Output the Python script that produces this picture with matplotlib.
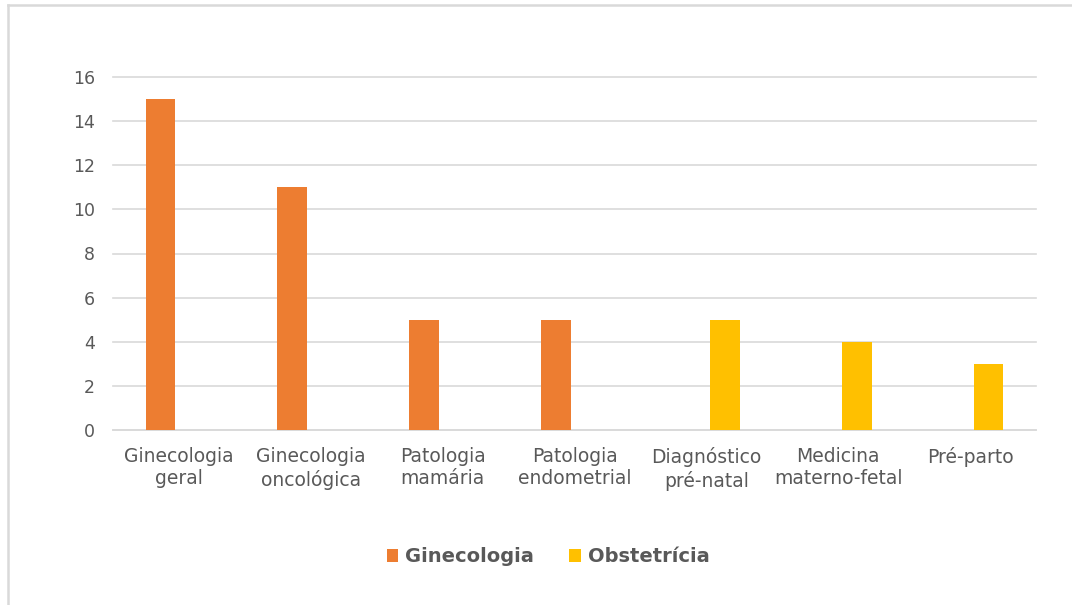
import matplotlib
matplotlib.use("Agg")
import matplotlib.pyplot as plt
import numpy as np
from matplotlib.lines import Line2D

categories = ["Ginecologia\ngeral", "Ginecologia\noncológica", "Patologia\nmamária",
              "Patologia\nendometrial", "Diagnóstico\npré-natal", "Medicina\nmaterno-fetal",
              "Pré-parto"]
ginecologia = [15, 11, 5, 5, 0, 0, 0]
obstetricia = [0, 0, 0, 0, 5, 4, 3]
yticks = [0, 2, 4, 6, 8, 10, 12, 14, 16]

plt.rcParams['font.family'] = ['DejaVu Sans']

fig = plt.figure(figsize=(10.72, 6.05), dpi=100)
# outer chart border (only top and left visible in the reference)
fig.lines.append(Line2D([8/1072, 1.0], [1-5/605, 1-5/605], transform=fig.transFigure,
                        color='#d9d9d9', linewidth=1.8))
fig.lines.append(Line2D([8/1072, 8/1072], [0.0, 1-5/605], transform=fig.transFigure,
                        color='#d9d9d9', linewidth=1.8))
ax = fig.add_axes([113/1072, 1-430/605, 923/1072, 353/605])

x = np.arange(len(categories))
w = 0.227
off = 0.14
gx = [xi - off for xi, v in zip(x, ginecologia) if v > 0]
gv = [v for v in ginecologia if v > 0]
ox = [xi + off for xi, v in zip(x, obstetricia) if v > 0]
ov = [v for v in obstetricia if v > 0]
ax.bar(gx, gv, width=w, color='#ED7D31', label='Ginecologia', zorder=3)
ax.bar(ox, ov, width=w, color='#FFC000', label='Obstetrícia', zorder=3)

ax.set_xlim(-0.5, len(categories) - 0.5)
ax.set_ylim(0, 16)
ax.set_yticks(yticks)
ax.set_xticks(x)
ax.set_xticklabels(categories, linespacing=1.25)
ax.grid(axis='y', color='#d9d9d9', linewidth=1.2, zorder=0)
for gl in ax.get_ygridlines():
    gl.set_clip_on(False)
for s in ['top', 'right', 'left']:
    ax.spines[s].set_visible(False)
ax.spines['bottom'].set_color('#d9d9d9')
ax.spines['bottom'].set_linewidth(1.2)
ax.tick_params(axis='both', length=0, colors='#595959')
ax.tick_params(axis='y', pad=13, labelsize=12.5)
ax.tick_params(axis='x', pad=12, labelsize=13.5)

leg = fig.legend(loc='center', bbox_to_anchor=(548/1072, 1-557/605), ncol=2, frameon=False,
                 handlelength=0.6, handleheight=0.6, handletextpad=0.35, columnspacing=1.8,
                 prop={'weight': 'bold', 'size': 14})
for t in leg.get_texts():
    t.set_color('#595959')

fig.savefig('out.png', dpi=100)
